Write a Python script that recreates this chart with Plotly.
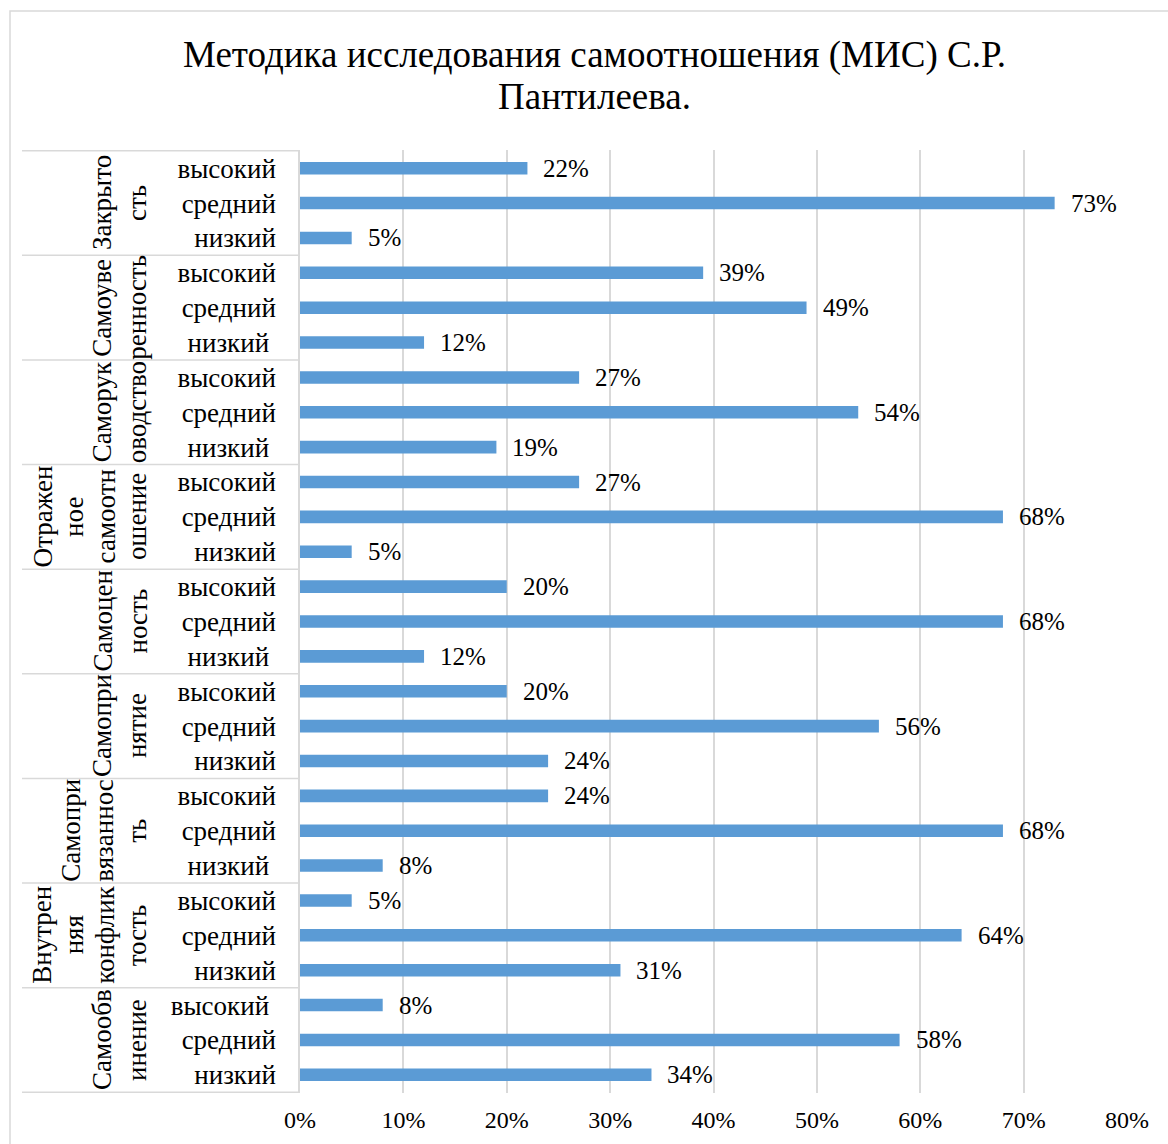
import plotly.graph_objects as go

# ---- data ----
title_lines = ["Методика исследования самоотношения (МИС) С.Р.", "Пантилеева."]
group_labels = [
    ["Закрыто", "сть"],
    ["Самоуве", "ренность"],
    ["Саморук", "оводство"],
    ["Отражен", "ное", "самоотн", "ошение"],
    ["Самоцен", "ность"],
    ["Самопри", "нятие"],
    ["Самопри", "вязаннос", "ть"],
    ["Внутрен", "няя", "конфлик", "тость"],
    ["Самообв", "инение"],
]
NB = "\u00a0"
level_labels = [
    ["высокий", "средний", "низкий"],
    ["высокий", "средний", "низкий" + NB],
    ["высокий", "средний", "низкий" + NB],
    ["высокий", "средний", "низкий"],
    ["высокий", "средний", "низкий" + NB],
    ["высокий", "средний", "низкий"],
    ["высокий", "средний", "низкий" + NB],
    ["высокий", "средний", "низкий"],
    ["высокий" + NB, "средний", "низкий"],
]
high = [22, 39, 27, 27, 20, 20, 24, 5, 8]
mid = [73, 49, 54, 68, 68, 56, 68, 64, 58]
low = [5, 12, 19, 5, 12, 24, 8, 31, 34]
x_ticks = [0, 10, 20, 30, 40, 50, 60, 70, 80]
x_tick_labels = ["0%", "10%", "20%", "30%", "40%", "50%", "60%", "70%", "80%"]

# ---- build categories ----
cats, vals, ticktext = [], [], []
for gi in range(len(group_labels)):
    for li, (lvl, v) in enumerate(zip(level_labels[gi], [high[gi], mid[gi], low[gi]])):
        cats.append(f"g{gi}_{li}")
        vals.append(v)
        ticktext.append(lvl)

FONT = "'Liberation Serif', 'Times New Roman', Times, 'DejaVu Serif', serif"
W, H = 1168, 1144
L, R, T, B = 300, 41, 150, 51
pw, ph = W - L - R, H - T - B

def px_x(px):
    return (px - L) / pw

def px_y(py):
    return (H - B - py) / ph

fig = go.Figure()
fig.add_trace(go.Bar(
    y=cats, x=vals, orientation="h",
    marker=dict(color="#5B9BD5", line=dict(width=0)),
    hoverinfo="x+y",
))

annotations = []
for c, v in zip(cats, vals):
    annotations.append(dict(
        x=v, y=c, xref="x", yref="y", text=f"{v}%", showarrow=False,
        xanchor="left", yanchor="middle", xshift=14,
        font=dict(family=FONT, size=25, color="#000000"),
    ))

n_levels = 3
pitch_by_lines = {1: 0, 2: 35, 3: 33, 4: 31.5}
last_center = 137
for gi, lines in enumerate(group_labels):
    n = len(lines)
    pitch = pitch_by_lines[n]
    for i, line in enumerate(lines):
        cx = last_center - pitch * (n - 1 - i)
        annotations.append(dict(
            x=px_x(cx), xref="paper", y=cats[gi * n_levels + 1], yref="y",
            text=line, showarrow=False, textangle=-90,
            xanchor="center", yanchor="middle",
            font=dict(family=FONT, size=27, color="#000000"),
        ))

for i, (line, cy) in enumerate(zip(title_lines, [55, 97])):
    annotations.append(dict(
        x=px_x(594), xref="paper", y=px_y(cy), yref="paper",
        text=line, showarrow=False, xanchor="center", yanchor="middle",
        font=dict(family=FONT, size=37, color="#000000"),
    ))

shapes = []
n_groups = len(group_labels)
for k in range(n_groups + 1):
    yb = k * n_levels - 0.5
    shapes.append(dict(
        type="line", xref="paper", yref="y",
        x0=px_x(22), x1=0, y0=yb, y1=yb,
        line=dict(color="#d9d9d9", width=1.5),
    ))
shapes.append(dict(
    type="rect", xref="paper", yref="paper",
    x0=px_x(10), x1=px_x(1180), y0=px_y(11), y1=px_y(1160),
    line=dict(color="#d9d9d9", width=1.5), fillcolor="rgba(0,0,0,0)", layer="below",
))

fig.update_layout(
    width=W, height=H,
    margin=dict(l=L, r=R, t=T, b=B),
    paper_bgcolor="white", plot_bgcolor="white",
    showlegend=False,
    bargap=0.64,
    annotations=annotations,
    shapes=shapes,
    font=dict(family=FONT, size=24, color="#000000"),
)
fig.update_xaxes(
    range=[0, 80], tickvals=x_ticks, ticktext=x_tick_labels,
    showgrid=True, gridcolor="#d9d9d9", gridwidth=1.5,
    zeroline=False, showline=False, ticks="", ticklabelstandoff=10,
    tickfont=dict(family=FONT, size=24, color="#000000"),
)
fig.update_yaxes(
    type="category", categoryorder="array", categoryarray=cats,
    autorange="reversed",
    tickvals=cats, ticktext=ticktext,
    showgrid=False, zeroline=False,
    showline=True, linecolor="#d9d9d9", linewidth=1.5,
    ticks="", ticklabelstandoff=17,
    tickfont=dict(family=FONT, size=27, color="#000000"),
)

fig.write_html("out.html")
